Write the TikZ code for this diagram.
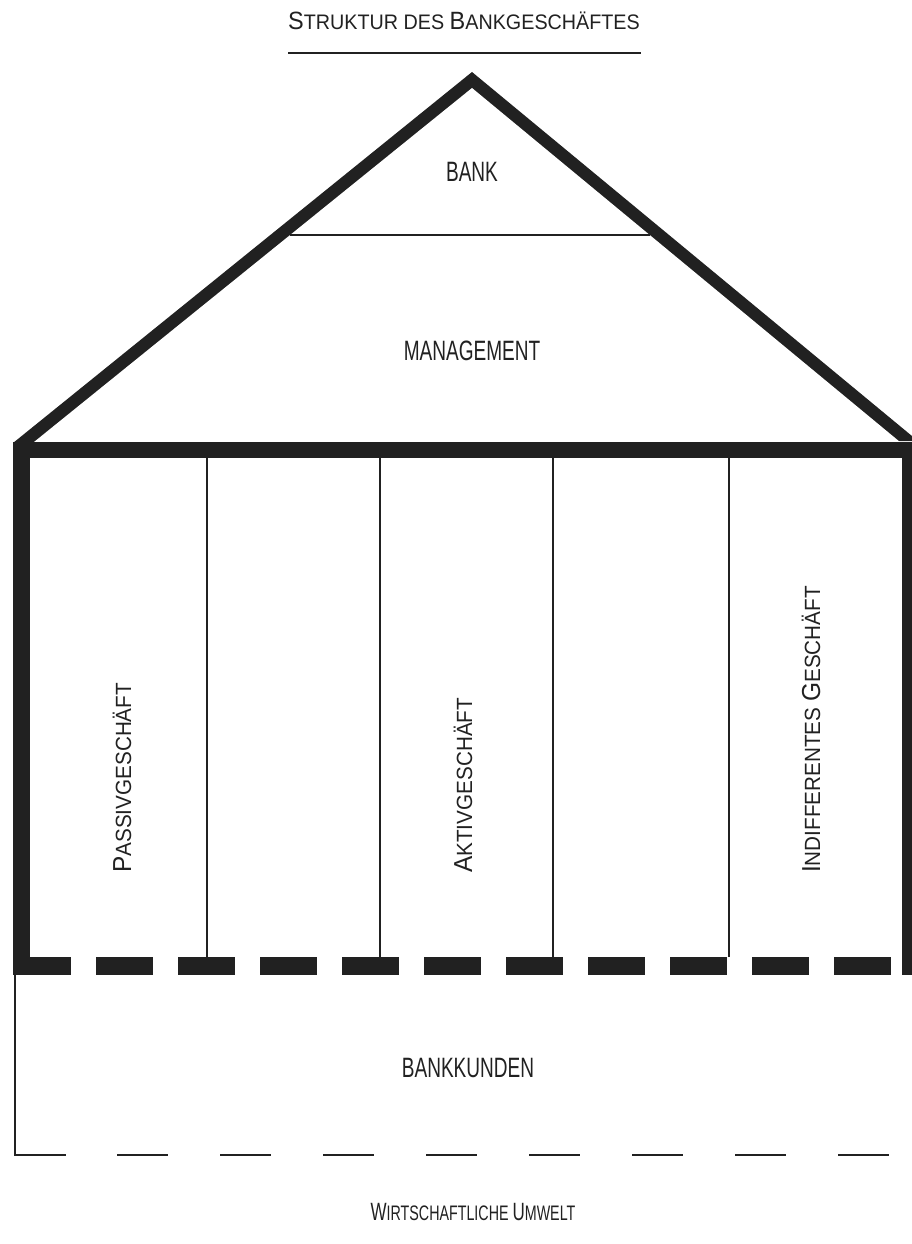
\documentclass[tikz,border=0pt]{standalone}
\usepackage{fontspec}
\newfontfamily\plotfont[FakeStretch=0.94]{Liberation Sans}
\newfontfamily\narrowfont[FakeStretch=0.68]{Liberation Sans}
\newcommand\kapbigpt{25}
\newcommand\kapsmallpt{21}
\newcommand\kapbig{\fontsize{\kapbigpt}{\kapbigpt}\selectfont}
\newcommand\kapsmall{\fontsize{\kapsmallpt}{\kapsmallpt}\selectfont}
\newcommand\kap[2]{{\kapbig#1}{\kapsmall#2}}
\newcommand\kapgap{{\kapsmall\ }}
\definecolor{ink}{gray}{0.13}
\tikzset{
  thinline/.style={line width=1.6pt,ink},
  bigword/.style={font=\narrowfont\fontsize{28}{30}\selectfont,text=ink,inner sep=0pt},
  kapword/.style={font=\plotfont,text=ink,inner sep=0pt},
  pillar/.style={kapword,font={\plotfont\def\kapbigpt{26}\def\kapsmallpt{22}},
    rotate=90,anchor=base west}
}
\begin{document}
\begin{tikzpicture}[x=1pt,y=-1pt]

\useasboundingbox
(0,0)
rectangle
(911,1244);

% title
\node[kapword]
(title)
at (464,21)
{\kap{S}{TRUKTUR}\kapgap{\kapsmall DES}\kapgap\kap{B}{ANKGESCH\"AFTES}};

\draw[thinline,line width=1.4pt]
(288,53)
--
(641,53);

% roof
\fill[ink]
(13,443)
--
(472,72)
--
(918,441)
-- cycle;

\fill[white]
(34,442)
--
(472,88)
--
(900,442)
-- cycle;

\draw[thinline]
(290,235)
--
(650,235);

\node[bigword]
(bank)
at (472,172)
{BANK};

\node[bigword]
(management)
at (472,351)
{MANAGEMENT};

% beam and walls
\fill[ink]
(13,442)
rectangle
(918,458);

\fill[ink]
(13,442)
rectangle
(30,975);

\fill[ink]
(902,442)
rectangle
(918,975);

% columns
\draw[thinline]
(207,458)
--
(207,957);

\draw[thinline]
(380,458)
--
(380,957);

\draw[thinline]
(553,458)
--
(553,957);

\draw[thinline]
(729,458)
--
(729,957);

\node[pillar]
(passiv)
at (131,873)
{\kap{P}{ASSIVGESCH\"AFT}};

\node[pillar]
(aktiv)
at (472,873)
{\kap{A}{KTIVGESCH\"AFT}};

\node[pillar]
(indifferent)
at (820,873)
{\kap{I}{NDIFFERENTES}\kapgap\kap{G}{ESCH\"AFT}};

% floor
\draw[ink,line width=18pt,dash pattern=on 57pt off 25pt]
(14,966)
--
(902,966);

% customers
\node[bigword]
(kunden)
at (468,1068)
{BANKKUNDEN};

\draw[thinline,line width=2.4pt]
(15,975)
--
(15,1155)
--
(66,1155);

\draw[thinline,line width=2.4pt,dash pattern=on 51pt off 52pt]
(117,1155)
--
(889,1155);

\node[kapword,font=\narrowfont]
(umwelt)
at (473,1212)
{\kap{W}{IRTSCHAFTLICHE}\kapgap\kap{U}{MWELT}};

\end{tikzpicture}
\end{document}
